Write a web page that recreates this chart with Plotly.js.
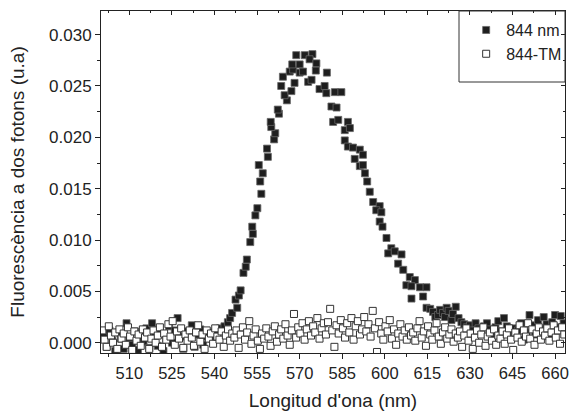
<!DOCTYPE html>
<html>
<head>
<meta charset="utf-8">
<script src="https://cdn.plot.ly/plotly-3.0.1.min.js"></script>
<style>html,body{margin:0;padding:0;background:#fff;}#chart{width:569px;height:414px;}</style>
</head>
<body>
<div id="chart"></div>
<script>
// Series "844 nm" (filled squares)
const nmX = [501,502,503,504,505,506,507,508,509,510,511,512,513,514,515,516,517,518,519,520,521,522,523,524,525,526,527,528,529,530,531,532,533,534,535,536,537,538,539,540,541,542,
543.5,544.7,545.5,546.2,547.4,548,548.6,549.2,550.2,551,551.4,552.6,553.5,553.3,554.4,555.1,556.5,556.1,557,555.6,558.8,558.5,561,561.4,560,559.8,562.7,562.3,565.5,564.7,567.1,563.5,568.2,564.1,566.5,567.7,567.4,570,568.8,571.8,574.5,573.5,575.9,570,571.2,573,574.2,575.7,579.6,577,578.8,579.4,582.4,584.7,581.2,583,581.8,583.6,587,585.9,587.7,585.9,587,588.8,591.2,589.4,592.3,591.2,592.3,593,593.8,594.7,595.9,598.2,597,598.8,598.2,599.2,600.6,602.3,601.2,603.5,605.9,604.7,606.5,608.8,610.6,607.6,609.4,612.4,614.7,613.5,609.4,614.7,616,617,617.8,618.8,619.5,620.5,621.8,621.2,622.5,623.5,624,625,
626,627,628,629,630,631,632,633,634,635,636,637,638,639,640,641,642,643,644,645,646,647,648,649,650,651,652,653,654,655,656,657,658,659,660,661,662,663];
const nmY = [0.0008,-0.0004,0.0012,0.0002,-0.0008,0.0010,0.0004,-0.0006,0.0019,0.0003,-0.0002,0.0011,-0.0007,0.0006,0.0001,0.0014,-0.0005,0.0019,0.0007,-0.0003,0.0009,-0.0008,0.0004,0.0016,0.0000,0.0012,0.0024,0.0006,-0.0006,0.0011,0.0003,0.0017,-0.0004,0.0008,0.0013,-0.0002,0.0006,0.0010,0.0004,0.0009,0.0012,0.0014,
0.0016,0.0020,0.0024,0.0029,0.0042,0.0034,0.0046,0.0051,0.0068,0.0074,0.0081,0.0098,0.0106,0.0113,0.0124,0.0131,0.0145,0.0157,0.0165,0.0173,0.0181,0.0189,0.0198,0.0204,0.0210,0.0215,0.0223,0.0227,0.0236,0.0241,0.0245,0.0250,0.0253,0.0259,0.0264,0.0266,0.0271,0.0271,0.0280,0.0280,0.0281,0.0276,0.0272,0.0263,0.0264,0.0254,0.0256,0.0265,0.0263,0.0247,0.0250,0.0243,0.0244,0.0244,0.0230,0.0229,0.0215,0.0217,0.0215,0.0207,0.0209,0.0197,0.0191,0.0190,0.0188,0.0179,0.0183,0.0172,0.0173,0.0165,0.0157,0.0147,0.0137,0.0133,0.0129,0.0127,0.0118,0.0113,0.0102,0.0092,0.0087,0.0089,0.0086,0.0077,0.0071,0.0064,0.0061,0.0056,0.0055,0.0054,0.0054,0.0045,0.0043,0.0034,0.0033,0.0030,0.0025,0.0027,0.0032,0.0029,0.0034,0.0025,0.0031,0.0022,0.0028,0.0035,
0.0024,0.0020,0.0018,0.0015,0.0017,0.0012,0.0019,0.0014,0.0010,0.0016,0.0019,0.0013,0.0008,0.0015,0.0021,0.0011,0.0024,0.0016,0.0009,0.0014,0.0006,0.0012,0.0019,0.0003,0.0010,0.0027,0.0017,0.0008,0.0022,0.0013,0.0025,0.0018,0.0006,0.0020,0.0027,0.0015,0.0026,0.0019];

// Series "844-TM" (open squares)
const tmX = [500.5,501.25,502,502.75,503.5,504.25,505,505.75,506.5,507.25,508,508.75,509.5,510.25,511,511.75,512.5,513.25,514,514.75,515.5,
516.25,517,517.75,518.5,519.25,520,520.75,521.5,522.25,523,523.75,524.5,525.25,526,526.75,527.5,528.25,529,529.75,530.5,531.25,
532,532.75,533.5,534.25,535,535.75,536.5,537.25,538,538.75,539.5,540.25,541,541.75,542.5,543.25,544,544.75,545.5,546.25,547,
547.75,548.5,549.25,550,550.75,551.5,552.25,553,553.75,554.5,555.25,556,556.75,557.5,558.25,559,559.75,560.5,561.25,562,562.75,
563.5,564.25,565,565.75,566.5,567.25,568,568.75,569.5,570.25,571,571.75,572.5,573.25,574,574.75,575.5,576.25,577,577.75,578.5,
579.25,580,580.75,581.5,582.25,583,583.75,584.5,585.25,586,586.75,587.5,588.25,589,589.75,590.5,591.25,592,592.75,593.5,594.25,
595,595.75,596.5,597.25,598,598.75,599.5,600.25,601,601.75,602.5,603.25,604,604.75,605.5,606.25,607,607.75,608.5,609.25,610,
610.75,611.5,612.25,613,613.75,614.5,615.25,616,616.75,617.5,618.25,619,619.75,620.5,621.25,622,622.75,623.5,624.25,625,625.75,
626.5,627.25,628,628.75,629.5,630.25,631,631.75,632.5,633.25,634,634.75,635.5,636.25,637,637.75,638.5,639.25,640,640.75,641.5,
642.25,643,643.75,644.5,645.25,646,646.75,647.5,648.25,649,649.75,650.5,651.25,652,652.75,653.5,654.25,655,655.75,656.5,657.25,
658,658.75,659.5,660.25,661,661.75,662.5,663.25];
const tmY = [0.0012,0.0003,-0.0004,0.0016,0.0007,0.0000,0.0010,-0.0006,0.0013,0.0004,0.0009,-0.0002,0.0015,0.0006,-0.0007,0.0011,0.0002,0.0008,-0.0003,0.0013,0.0005,
0.0010,-0.0006,0.0004,0.0012,0.0000,0.0007,0.0015,-0.0004,0.0009,0.0003,0.0018,0.0006,0.0021,-0.0002,0.0011,0.0004,0.0014,-0.0005,0.0008,0.0002,0.0012,
0.0005,-0.0003,0.0010,0.0017,0.0001,0.0008,-0.0006,0.0012,0.0004,0.0009,-0.0001,0.0014,0.0006,0.0003,0.0011,-0.0004,0.0007,0.0013,0.0002,0.0009,0.0005,
0.0012,-0.0005,0.0008,0.0015,0.0003,0.0010,0.0021,-0.0001,0.0007,0.0013,0.0002,-0.0006,0.0009,0.0004,0.0014,0.0006,-0.0003,0.0011,0.0016,0.0001,0.0008,
0.0013,0.0004,0.0018,0.0007,-0.0002,0.0012,0.0028,0.0005,0.0015,0.0009,0.0019,0.0003,0.0013,0.0021,0.0007,0.0016,0.0010,0.0024,0.0004,0.0014,0.0019,
0.0008,0.0020,0.0033,0.0012,-0.0004,0.0017,0.0009,0.0022,0.0014,0.0005,0.0019,0.0010,0.0024,0.0003,0.0016,0.0021,0.0008,0.0013,0.0025,0.0011,0.0018,
0.0006,0.0031,0.0014,-0.0009,0.0020,0.0009,0.0003,0.0016,0.0011,0.0022,0.0004,0.0013,-0.0002,0.0009,0.0018,0.0006,0.0012,0.0003,0.0015,0.0007,0.0010,
0.0002,0.0014,0.0021,0.0005,0.0011,-0.0003,0.0016,0.0008,0.0003,0.0012,0.0019,0.0006,-0.0001,0.0010,0.0015,0.0004,0.0008,0.0013,0.0001,0.0009,0.0005,
0.0011,-0.0004,0.0007,0.0014,0.0002,0.0009,-0.0006,0.0005,0.0012,0.0000,0.0008,0.0015,-0.0003,0.0006,0.0010,0.0002,0.0013,-0.0002,0.0007,0.0004,0.0011,
-0.0001,0.0008,0.0014,0.0003,-0.0007,0.0010,0.0005,0.0017,0.0001,0.0012,0.0006,0.0019,0.0004,0.0013,-0.0002,0.0009,0.0015,0.0003,0.0011,0.0007,0.0014,
0.0002,0.0010,0.0017,0.0005,0.0012,-0.0001,0.0015,0.0008];

const seriesNames = ['844 nm', '844-TM'];
const xTitle = "Longitud d'ona (nm)";
const yTitle = 'Fluorescència a dos fotons (u.a)';

const xRange = [500, 663.5];
const yRange = [-0.001, 0.0323];

const font = 'Arial, "Liberation Sans", sans-serif';

const traces = [
  {x: nmX, y: nmY, name: seriesNames[0], type: 'scatter', mode: 'markers', cliponaxis: true,
   marker: {symbol: 'square', size: 7, color: '#1e1e1e', line: {color: '#666', width: 0.8}}},
  {x: tmX, y: tmY, name: seriesNames[1], type: 'scatter', mode: 'markers', cliponaxis: true,
   marker: {symbol: 'square', size: 7, color: '#ffffff', line: {color: '#333', width: 1}}},
  {x: [], y: [], xaxis: 'x2', yaxis: 'y2', showlegend: false, hoverinfo: 'skip', type: 'scatter', mode: 'markers'}
];

const layout = {
  width: 569, height: 414,
  margin: {l: 101, r: 4, t: 11, b: 61, autoexpand: false},
  paper_bgcolor: '#fff', plot_bgcolor: '#fff',
  font: {family: font, color: '#222', size: 17},
  showlegend: true,
  legend: {x: 0.787, y: 0.994, xanchor: 'left', yanchor: 'top', bgcolor: 'rgba(0,0,0,0)',
           borderwidth: 0, font: {family: font, size: 16, color: '#222'}, tracegroupgap: 0, itemwidth: 30},
  xaxis: {range: xRange, tick0: 510, dtick: 15, ticks: 'outside', ticklen: 5, tickwidth: 1, tickcolor: '#222',
          showline: true, linecolor: '#222', linewidth: 1, mirror: true, showgrid: false, zeroline: false,
          tickfont: {size: 16.5, color: '#222'}, automargin: false,
          minor: {tick0: 510, dtick: 7.5, ticks: 'outside', ticklen: 3, tickcolor: '#222', showgrid: false},
          title: {text: xTitle, font: {size: 19, color: '#222'}, standoff: 12}},
  yaxis: {range: yRange, tick0: 0, dtick: 0.005, tickformat: '.3f', ticks: 'outside', ticklen: 5, tickwidth: 1, tickcolor: '#222',
          showline: true, linecolor: '#222', linewidth: 1, mirror: true, showgrid: false, zeroline: false,
          tickfont: {size: 17, color: '#222'}, automargin: false,
          minor: {tick0: 0, dtick: 0.0025, ticks: 'outside', ticklen: 3, tickcolor: '#222', showgrid: false},
          title: {text: yTitle, font: {size: 19, color: '#222'}, standoff: 19}},
  xaxis2: {overlaying: 'x', side: 'top', anchor: 'y', range: xRange, tick0: 510, dtick: 15, ticks: 'inside', ticklen: 4,
           tickcolor: '#222', showticklabels: false, showgrid: false, zeroline: false, showline: false,
           minor: {tick0: 510, dtick: 7.5, ticks: 'inside', ticklen: 2, tickcolor: '#222'}},
  yaxis2: {overlaying: 'y', side: 'right', anchor: 'x', range: yRange, tick0: 0, dtick: 0.005, ticks: 'inside', ticklen: 4,
           tickcolor: '#222', showticklabels: false, showgrid: false, zeroline: false, showline: false,
           minor: {tick0: 0, dtick: 0.0025, ticks: 'inside', ticklen: 2, tickcolor: '#222'}},
  shapes: [
    {type: 'rect', xref: 'paper', yref: 'paper', x0: (459 - 101) / 464, x1: 1, y0: 1 - (82 - 11) / 342, y1: 1,
     line: {color: '#333', width: 1}, fillcolor: 'rgba(0,0,0,0)', layer: 'above'}
  ]
};

Plotly.newPlot('chart', traces, layout, {displayModeBar: false, staticPlot: true});
</script>
</body>
</html>
